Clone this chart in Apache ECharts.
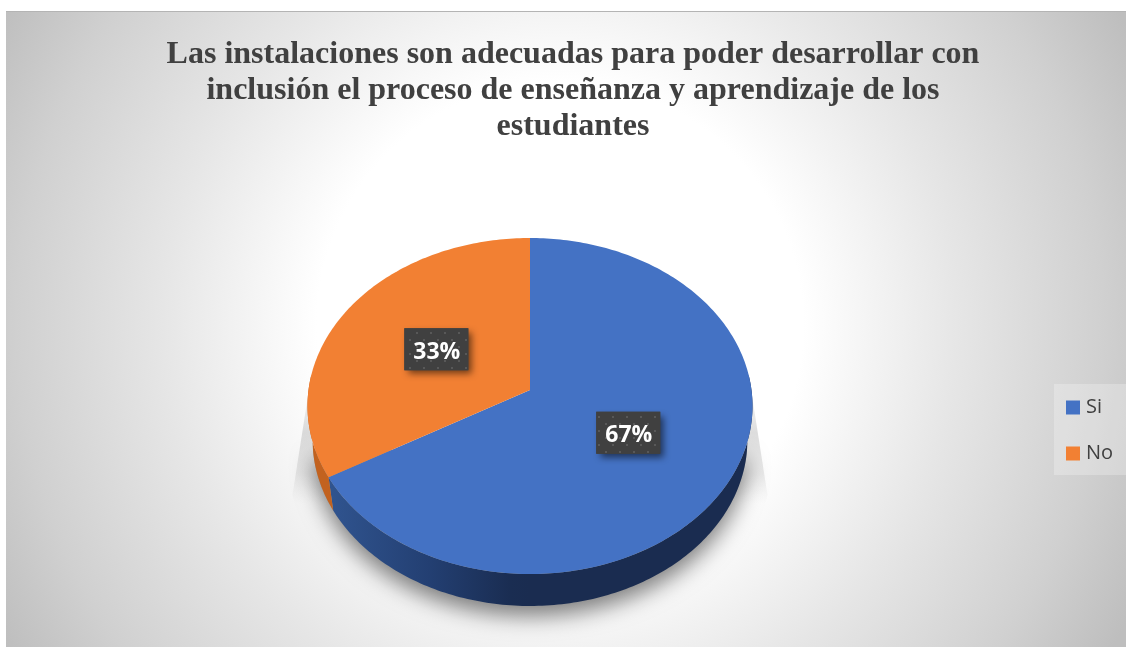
<!DOCTYPE html>
<html><head><meta charset="utf-8">
<script src="https://cdn.jsdelivr.net/npm/echarts@6/dist/echarts.min.js"></script>
<style>html,body{margin:0;padding:0;background:#fff}#c{width:1126px;height:647px}</style>
</head><body><div id="c"></div>
<script>
const categories = ['Si', 'No'];
const values = [66.67, 33.33];
const colors = ['#4472c4', '#f28033'];
const titleLines = [
  'Las instalaciones son adecuadas para poder desarrollar con',
  'inclusión el proceso de enseñanza y aprendizaje de los',
  'estudiantes'
];

// Projection of the tilted pie disc
const P = { cx: 530, apex: 390, top: 238, bottom: 574, halfW: 222.5, ellipseY: 406, rimY: 440, rimSx: 0.977, rimSy: 0.988 };
const k = (2 * P.apex - P.top - P.bottom) / (P.bottom - P.top);
const aa = P.bottom + P.bottom * k - P.apex;
const d = P.halfW * Math.sqrt(1 - k * k);
function proj(theta, r) {
  const u = Math.sin(theta) * r, v = -Math.cos(theta) * r;
  const w = 1 + k * v;
  return [P.cx + d * u / w, (aa * v + P.apex) / w];
}
function rim(theta) {
  const p = proj(theta, 1);
  return [P.cx + (p[0] - P.cx) * P.rimSx, P.rimY + (p[1] - P.ellipseY) * P.rimSy];
}
const total = values.reduce((s, v) => s + v, 0);
function range(i) {
  let acc = 0;
  for (let j = 0; j < i; j++) acc += values[j];
  return [acc / total * 2 * Math.PI, (acc + values[i]) / total * 2 * Math.PI];
}
function arc(t0, t1, fn) {
  const n = Math.max(2, Math.ceil((t1 - t0) * 60)), pts = [];
  for (let s = 0; s <= n; s++) pts.push(fn(t0 + (t1 - t0) * s / n));
  return pts;
}
const edge = t => proj(t, 1);
// dotted fill of the data label boxes
const pat = document.createElement('canvas');
pat.width = 14; pat.height = 14;
(function () {
  const g = pat.getContext('2d');
  g.fillStyle = '#404040'; g.fillRect(0, 0, 14, 14);
  g.fillStyle = '#585858';
  g.fillRect(3, 3, 2, 2); g.fillRect(10, 10, 2, 2);
})();
const wallFill = [
  { type: 'linear', x: 330, y: 0, x2: 530, y2: 0, global: true, colorStops: [
    { offset: 0, color: '#30548f' }, { offset: 0.5, color: '#233f72' }, { offset: 0.9, color: '#1a2d52' }, { offset: 1, color: '#1a2c50' }] },
  '#c2621f'
];

function renderSlice(i) {
  return function (params, api) {
    const [t0, t1] = range(i);
    const children = [];
    const w0 = Math.max(t0, Math.PI * 0.47), w1 = Math.min(t1, Math.PI * 1.53);
    if (w1 > w0) {
      children.push({ type: 'polygon', shape: { points: arc(w0, w1, edge).concat(arc(w0, w1, rim).reverse()) },
        style: { fill: wallFill[i] }, z2: 1 });
    }
    const top = [proj(0, 0)].concat(arc(t0, t1, edge));
    children.push({ type: 'polygon', shape: { points: top }, style: { fill: colors[i] }, z2: 2 });
    return { type: 'group', children: children };
  };
}
function renderLabel(i) {
  return function (params, api) {
    const v = api.value(0);
    const [t0, t1] = range(i);
    const c = proj((t0 + t1) / 2, 0.5);
    const bw = 64, bh = 42;
    const x = c[0] - bw / 2, y = c[1] - bh / 2;
    return { type: 'group', children: [
      { type: 'rect', shape: { x: x, y: y, width: bw, height: bh },
        style: { fill: '#404040', shadowBlur: 7, shadowOffsetX: 4, shadowOffsetY: 4, shadowColor: 'rgba(0,0,0,0.55)' } },
      { type: 'rect', shape: { x: x, y: y, width: bw, height: bh },
        style: { fill: { image: pat, repeat: 'repeat' } } },
      { type: 'text', x: c[0] + 0.5, y: c[1] + 3,
        style: { text: Math.round(v / total * 100) + '%', fill: '#fff', align: 'center', verticalAlign: 'middle',
          font: 'bold 23px "Open Sans", "Noto Sans", sans-serif' } }
    ] };
  };
}
function renderShadow() {
  const L = P.cx - P.halfW, R = P.cx + P.halfW, cy = P.ellipseY - 20;
  const flare = 15, low = 495;
  const grad = { type: 'linear', x: 0, y: cy, x2: 0, y2: low + 8, global: true, colorStops: [
    { offset: 0, color: 'rgba(160,160,160,0.05)' }, { offset: 0.4, color: 'rgba(160,160,160,0.36)' },
    { offset: 0.75, color: 'rgba(170,170,170,0.24)' }, { offset: 1, color: 'rgba(190,190,190,0)' }] };
  return { type: 'group', silent: true, children: [
    { type: 'polygon', shape: { points: [[L + 2, cy], [L - flare, low], [L - flare + 2, low + 8], [L + 70, low + 20], [L + 40, cy]] }, style: { fill: grad } },
    { type: 'polygon', shape: { points: [[R - 2, cy], [R + flare, low], [R + flare - 2, low + 8], [R - 70, low + 20], [R - 40, cy]] }, style: { fill: grad } },
    { type: 'polygon', shape: { points: arc(Math.PI * 0.55, Math.PI * 1.45, rim) },
      style: { fill: '#999', shadowBlur: 22, shadowOffsetY: 10, shadowColor: 'rgba(0,0,0,0.5)' } }
  ] };
}

const series = [
  { type: 'custom', name: '_shadow', coordinateSystem: 'none', silent: true, data: [[0]], renderItem: renderShadow, z: 1 }
];
categories.forEach((name, i) => {
  series.push({ type: 'custom', name: name, coordinateSystem: 'none', data: [[values[i]]],
    itemStyle: { color: colors[i] }, renderItem: renderSlice(i), z: 2 });
});
categories.forEach((name, i) => {
  series.push({ type: 'custom', name: name + '_label', coordinateSystem: 'none', data: [[values[i]]],
    renderItem: renderLabel(i), z: 3 });
});

const chart = echarts.init(document.getElementById('c'), null, { renderer: 'canvas' });
chart.setOption({
  animation: false,
  backgroundColor: '#fff',
  graphic: [
    { type: 'rect', z: -10, silent: true, shape: { x: 6, y: 11, width: 1120, height: 636 },
      style: { stroke: null, fill: { type: 'radial', x: 560, y: 325, r: 640, global: true, colorStops: [
        { offset: 0, color: '#ffffff' }, { offset: 0.38, color: '#ffffff' }, { offset: 0.62, color: '#e6e6e6' },
        { offset: 0.85, color: '#d0d0d0' }, { offset: 1, color: '#bebebe' }] } } },
    { type: 'rect', z: -9, silent: true, shape: { x: 6, y: 11, width: 1120, height: 1 }, style: { fill: '#b4b4b4' } },
    { type: 'rect', z: -9, silent: true, shape: { x: 1054, y: 384, width: 72, height: 91 }, style: { fill: 'rgba(255,255,255,0.25)' } }
  ],
  title: {
    text: titleLines.join('\n'), left: 573, top: 37, textAlign: 'center', padding: 0,
    textStyle: { fontFamily: '"Liberation Serif", serif', fontWeight: 'bold', fontSize: 32, lineHeight: 36, color: '#404040' }
  },
  legend: {
    data: categories, orient: 'vertical', left: 1066, top: 397.5, padding: 0, itemWidth: 14, itemHeight: 14, itemGap: 26,
    icon: 'rect', selectedMode: false,
    textStyle: { fontFamily: '"Open Sans", "Noto Sans", sans-serif', fontSize: 20, color: '#404040', padding: [0, 0, 0, 1] }
  },
  series: series
});
</script></body></html>
